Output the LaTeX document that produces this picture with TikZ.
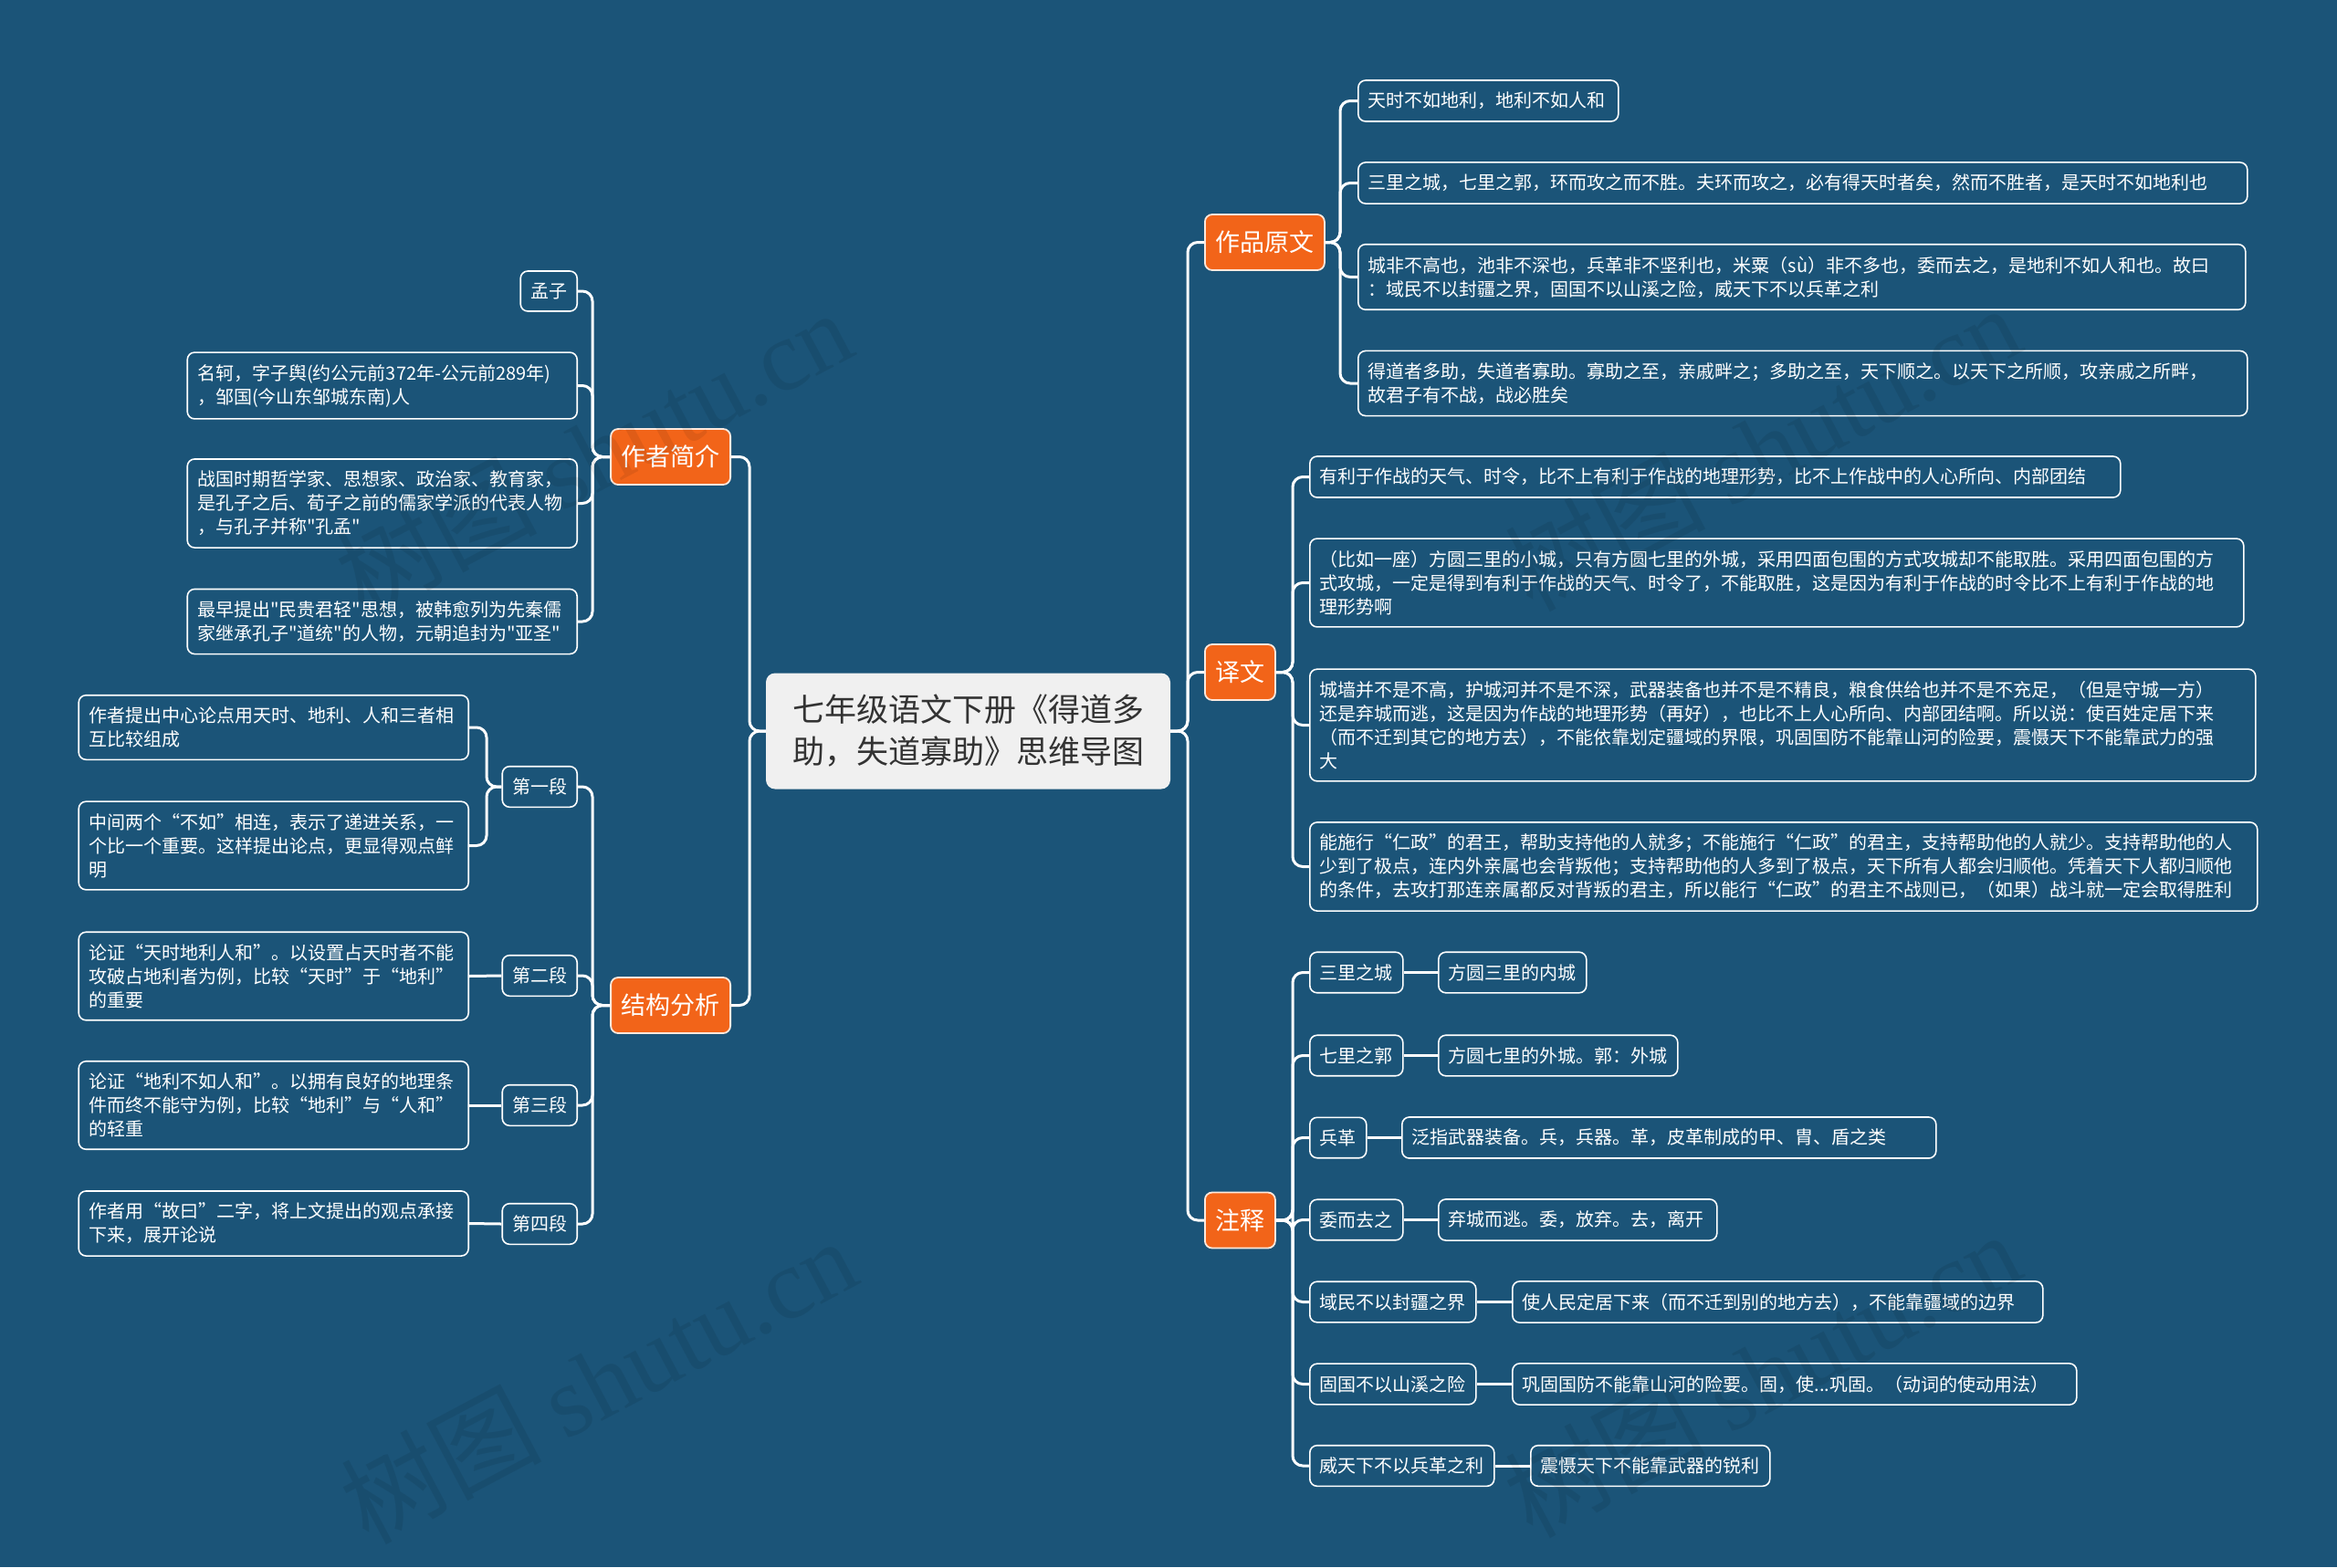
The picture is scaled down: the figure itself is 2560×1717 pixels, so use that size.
\documentclass[tikz,border=0pt]{standalone}
\usepackage{fontspec}
\setmainfont{Noto Sans CJK SC}
\newfontfamily\cjk{Noto Sans CJK SC}
\newfontfamily\wmserif{Liberation Serif}
\definecolor{bg}{HTML}{1B5478}
\definecolor{org}{HTML}{F26419}
\definecolor{rootfill}{HTML}{F0F0F0}
\definecolor{roottext}{HTML}{333333}
\tikzset{
  leaf/.style={draw=white, line width=1.6pt, rounded corners=8pt, fill=bg, text=white,
    font=\cjk\fontsize{20}{26}\selectfont, inner xsep=11pt, inner ysep=13pt,
    minimum height=44pt, align=left},
  leafw/.style={leaf, text width=#1},
  branch/.style={draw=white!85!org, line width=1.8pt, rounded corners=8pt, fill=org, text=white,
    font=\cjk\fontsize{27}{32}\selectfont, inner xsep=11.5pt, inner ysep=10pt, minimum height=61pt},
  rootnode/.style={fill=rootfill, rounded corners=10pt, text=roottext,
    font=\cjk\fontsize{35}{46}\selectfont, align=center, minimum width=443pt, minimum height=127pt},
  conn/.style={draw=white, line width=3pt, rounded corners=11pt},
  wm/.style={text=black, opacity=0.08, rotate=28, font=\fontsize{110}{120}\selectfont}
}
\begin{document}
\begin{tikzpicture}[x=1pt,y=-1pt]
\useasboundingbox (0,0) rectangle (2560,1717);
\fill[bg] (0,0) rectangle (2560,1717);

% trunk coordinates
\coordinate (tL) at (821,0);
\coordinate (tR) at (1301,0);
\coordinate (tZZ) at (649,0);
\coordinate (tJG) at (649,0);
\coordinate (tD) at (533,0);
\coordinate (tYW) at (1468,0);
\coordinate (tYI) at (1416,0);
\coordinate (tZS) at (1416,0);

% root and branches
\node[rootnode] (root) at (1060.5,801) {七年级语文下册《得道多\\助，失道寡助》思维导图};
\node[branch, anchor=east] (zz) at (801,500.5) {作者简介};
\node[branch, anchor=east] (jg) at (801,1101.5) {结构分析};
\node[branch, anchor=west] (yw) at (1319,265.5) {作品原文};
\node[branch, anchor=west] (yi) at (1319,736.5) {译文};
\node[branch, anchor=west] (zs) at (1319,1337) {注释};

% 作者简介
\node[leaf, anchor=east] (a1) at (633,319) {孟子};
\node[leafw=405pt, anchor=east] (a2) at (633,422.5) {名轲，字子舆(约公元前372年-公元前289年)\\，邹国(今山东邹城东南)人};
\node[leafw=405pt, anchor=east] (a3) at (633,551.5) {战国时期哲学家、思想家、政治家、教育家，\\是孔子之后、荀子之前的儒家学派的代表人物\\，与孔子并称"孔孟"};
\node[leafw=405pt, anchor=east] (a4) at (633,681) {最早提出"民贵君轻"思想，被韩愈列为先秦儒\\家继承孔子"道统"的人物，元朝追封为"亚圣"};

% 结构分析
\node[leaf, anchor=east] (s1) at (633,862) {第一段};
\node[leaf, anchor=east] (s2) at (633,1069) {第二段};
\node[leaf, anchor=east] (s3) at (633,1211) {第三段};
\node[leaf, anchor=east] (s4) at (633,1341) {第四段};
\node[leafw=405pt, anchor=east] (s1a) at (514,797) {作者提出中心论点用天时、地利、人和三者相\\互比较组成};
\node[leafw=405pt, anchor=east] (s1b) at (514,926.5) {中间两个“不如”相连，表示了递进关系，一\\个比一个重要。这样提出论点，更显得观点鲜\\明};
\node[leafw=405pt, anchor=east] (s2a) at (514,1069.5) {论证“天时地利人和”。以设置占天时者不能\\攻破占地利者为例，比较“天时”于“地利”\\的重要};
\node[leafw=405pt, anchor=east] (s3a) at (514,1211) {论证“地利不如人和”。以拥有良好的地理条\\件而终不能守为例，比较“地利”与“人和”\\的轻重};
\node[leafw=405pt, anchor=east] (s4a) at (514,1340.5) {作者用“故曰”二字，将上文提出的观点承接\\下来，展开论说};

% 作品原文
\node[leafw=263pt, anchor=west] (w1) at (1487,110.5) {天时不如地利，地利不如人和};
\node[leafw=952pt, anchor=west] (w2) at (1487,200.5) {三里之城，七里之郭，环而攻之而不胜。夫环而攻之，必有得天时者矣，然而不胜者，是天时不如地利也};
\node[leafw=950pt, anchor=west] (w3) at (1487,303.5) {城非不高也，池非不深也，兵革非不坚利也，米粟（sù）非不多也，委而去之，是地利不如人和也。故曰\\：域民不以封疆之界，固国不以山溪之险，威天下不以兵革之利};
\node[leafw=952pt, anchor=west] (w4) at (1487,420) {得道者多助，失道者寡助。寡助之至，亲戚畔之；多助之至，天下顺之。以天下之所顺，攻亲戚之所畔，\\故君子有不战，战必胜矣};

% 译文
\node[leafw=866pt, anchor=west] (y1) at (1434,522.5) {有利于作战的天气、时令，比不上有利于作战的地理形势，比不上作战中的人心所向、内部团结};
\node[leafw=1001pt, anchor=west] (y2) at (1434,638.5) {（比如一座）方圆三里的小城，只有方圆七里的外城，采用四面包围的方式攻城却不能取胜。采用四面包围的方\\式攻城，一定是得到有利于作战的天气、时令了，不能取胜，这是因为有利于作战的时令比不上有利于作战的地\\理形势啊};
\node[leafw=1014pt, anchor=west] (y3) at (1434,794.5) {城墙并不是不高，护城河并不是不深，武器装备也并不是不精良，粮食供给也并不是不充足，（但是守城一方）\\还是弃城而逃，这是因为作战的地理形势（再好），也比不上人心所向、内部团结啊。所以说：使百姓定居下来\\（而不迁到其它的地方去），不能依靠划定疆域的界限，巩固国防不能靠山河的险要，震慑天下不能靠武力的强\\大};
\node[leafw=1016pt, anchor=west] (y4) at (1434,949.5) {能施行“仁政”的君王，帮助支持他的人就多；不能施行“仁政”的君主，支持帮助他的人就少。支持帮助他的人\\少到了极点，连内外亲属也会背叛他；支持帮助他的人多到了极点，天下所有人都会归顺他。凭着天下人都归顺他\\的条件，去攻打那连亲属都反对背叛的君主，所以能行“仁政”的君主不战则已，（如果）战斗就一定会取得胜利};

% 注释
\node[leaf, anchor=west] (z1) at (1434,1065.5) {三里之城};
\node[leaf, anchor=west] (z2) at (1434,1156.5) {七里之郭};
\node[leaf, anchor=west] (z3) at (1434,1246.5) {兵革};
\node[leaf, anchor=west] (z4) at (1434,1336.5) {委而去之};
\node[leaf, anchor=west] (z5) at (1434,1426.5) {域民不以封疆之界};
\node[leaf, anchor=west] (z6) at (1434,1516.5) {固国不以山溪之险};
\node[leaf, anchor=west] (z7) at (1434,1606) {威天下不以兵革之利};
\node[leaf, anchor=west] (d1) at (1575,1065.5) {方圆三里的内城};
\node[leaf, anchor=west] (d2) at (1575,1156.5) {方圆七里的外城。郭：外城};
\node[leafw=563pt, anchor=west] (d3) at (1535,1246.5) {泛指武器装备。兵，兵器。革，皮革制成的甲、胄、盾之类};
\node[leafw=283pt, anchor=west] (d4) at (1575,1336.5) {弃城而逃。委，放弃。去，离开};
\node[leafw=559pt, anchor=west] (d5) at (1656,1426.5) {使人民定居下来（而不迁到别的地方去），不能靠疆域的边界};
\node[leafw=596pt, anchor=west] (d6) at (1656,1516.5) {巩固国防不能靠山河的险要。固，使...巩固。（动词的使动用法）};
\node[leaf, anchor=west] (d7) at (1676,1606) {震慑天下不能靠武器的锐利};

% connectors
\foreach \b in {zz,jg} \draw[conn] (root.west) -- (root.west -| tL) |- (\b.east);
\foreach \b in {yw,yi,zs} \draw[conn] (root.east) -- (root.east -| tR) |- (\b.west);
\foreach \c in {a1,a2,a3,a4} \draw[conn] (zz.west) -- (zz.west -| tZZ) |- (\c.east);
\foreach \c in {s1,s2,s3,s4} \draw[conn] (jg.west) -- (jg.west -| tJG) |- (\c.east);
\draw[conn] (s1.west) -- (s1.west -| tD) |- (s1a.east);
\draw[conn] (s1.west) -- (s1.west -| tD) |- (s1b.east);
\draw[conn] (s2.west) -- (s2a.east);
\draw[conn] (s3.west) -- (s3a.east);
\draw[conn] (s4.west) -- (s4a.east);
\foreach \c in {w1,w2,w3,w4} \draw[conn] (yw.east) -- (yw.east -| tYW) |- (\c.west);
\foreach \c in {y1,y2,y3,y4} \draw[conn] (yi.east) -- (yi.east -| tYI) |- (\c.west);
\foreach \c in {z1,z2,z3,z4,z5,z6,z7} \draw[conn] (zs.east) -- (zs.east -| tZS) |- (\c.west);
\foreach \i in {1,...,7} \draw[conn] (z\i.east) -- (d\i.west);

% watermarks
\node[wm] (wm1) at (650,495) {\cjk 树图 \wmserif shutu.cn};
\node[wm] (wm2) at (1930,490) {\cjk 树图 \wmserif shutu.cn};
\node[wm] (wm3) at (655,1512) {\cjk 树图 \wmserif shutu.cn};
\node[wm] (wm4) at (1930,1505) {\cjk 树图 \wmserif shutu.cn};
\end{tikzpicture}
\end{document}
